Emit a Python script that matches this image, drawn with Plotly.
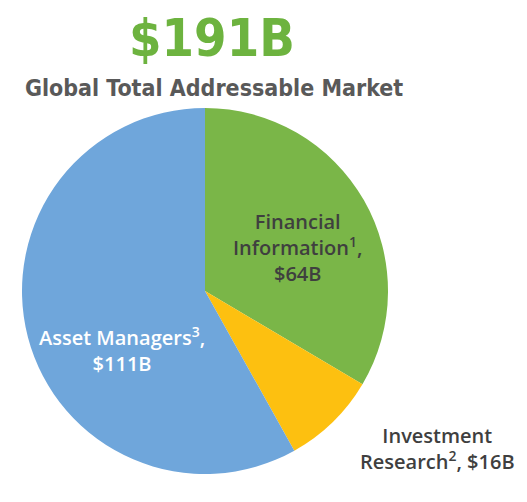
import plotly.graph_objects as go

segments = ["Financial Information", "Investment Research", "Asset Managers"]
values = [64, 16, 111]
colors = ["#7AB648", "#FDC010", "#6FA6DB"]

FONT_C = "DejaVu Sans Condensed, DejaVu Sans, sans-serif"
FONT = "Open Sans, DejaVu Sans, sans-serif"

fig = go.Figure(go.Pie(
    labels=segments,
    values=values,
    sort=False,
    direction="clockwise",
    rotation=0,
    marker=dict(colors=colors, line=dict(width=0)),
    textinfo="none",
    hoverinfo="label+value",
    showlegend=False,
    domain=dict(x=[14/527, 380/527], y=[1-466/502, 1-100/502]),
))

ann = [
    dict(text="<b>$191B</b>", x=204, y=30, size=52, color="#6DB33F", f=FONT_C, w=700),
    dict(text="<b>Global Total Addressable Market</b>", x=206, y=80, size=23, color="#595959", f=FONT_C, w=700),
    dict(text="Financial<br>Information<sup>1</sup>,<br>$64B", x=289, y=239, size=20, color="#3F3F3F", f=FONT, w=600),
    dict(text="Asset Managers<sup>3</sup>,<br>$111B", x=114, y=341, size=20, color="#FFFFFF", f=FONT, w=600),
    dict(text="Investment<br>Research<sup>2</sup>, $16B", x=429, y=440, size=20, color="#3F3F3F", f=FONT, w=600),
]
annotations = []
for a in ann:
    annotations.append(dict(
        text=a["text"], x=a["x"]/527, y=1-a["y"]/502, xref="paper", yref="paper",
        xanchor="center", yanchor="middle", showarrow=False,
        font=dict(family=a["f"], size=a["size"], color=a["color"], weight=a["w"]),
    ))

fig.update_layout(
    width=527, height=502,
    margin=dict(l=0, r=0, t=0, b=0),
    paper_bgcolor="white", plot_bgcolor="white",
    annotations=annotations,
    font=dict(family=FONT),
)

fig.write_html("out.html")
